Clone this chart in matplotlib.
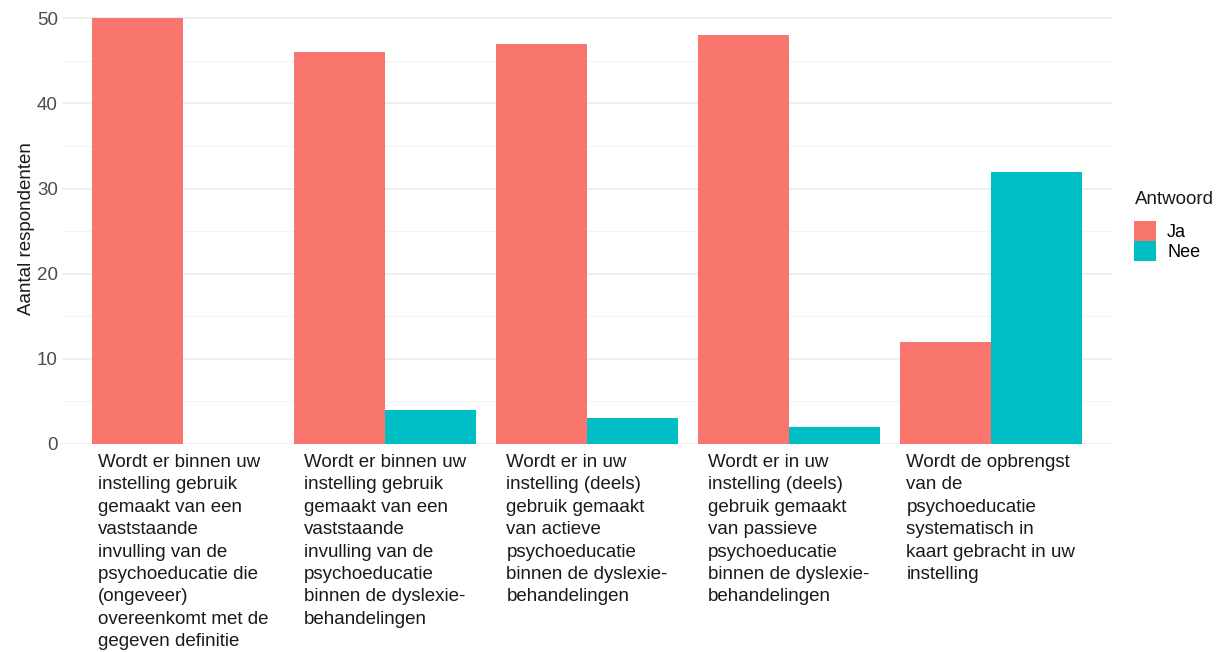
"""Grouped bar chart: gebruik van psychoeducatie binnen instellingen."""

import matplotlib
matplotlib.use("Agg")
import matplotlib.pyplot as plt
import numpy as np
from matplotlib.patches import Patch

plt.rcParams["font.family"] = ["Liberation Sans", "DejaVu Sans"]

categories = [
    "Wordt er binnen uw\ninstelling gebruik\ngemaakt van een\nvaststaande\ninvulling van de\npsychoeducatie die\n(ongeveer)\novereenkomt met de\ngegeven definitie",
    "Wordt er binnen uw\ninstelling gebruik\ngemaakt van een\nvaststaande\ninvulling van de\npsychoeducatie\nbinnen de dyslexie-\nbehandelingen",
    "Wordt er in uw\ninstelling (deels)\ngebruik gemaakt\nvan actieve\npsychoeducatie\nbinnen de dyslexie-\nbehandelingen",
    "Wordt er in uw\ninstelling (deels)\ngebruik gemaakt\nvan passieve\npsychoeducatie\nbinnen de dyslexie-\nbehandelingen",
    "Wordt de opbrengst\nvan de\npsychoeducatie\nsystematisch in\nkaart gebracht in uw\ninstelling",
]
ja_values = [50, 46, 47, 48, 12]
nee_values = [0, 4, 3, 2, 32]
series_names = ["Ja", "Nee"]
colors = {"Ja": "#F8766D", "Nee": "#00BFC4"}

fig = plt.figure(figsize=(12.24, 6.52), dpi=100)
ax = fig.add_axes([62 / 1224, 208 / 652, 1050 / 1224, 430 / 652])

x = np.arange(len(categories))
width = 0.45
ax.bar(x - width / 2, ja_values, width, color=colors["Ja"], zorder=2)
ax.bar(x + width / 2, nee_values, width, color=colors["Nee"], zorder=2)

ax.set_xlim(-0.6, len(categories) - 0.4)
ax.set_ylim(0, 50.5)
ax.set_yticks([0, 10, 20, 30, 40, 50])
ax.set_yticks([5, 15, 25, 35, 45], minor=True)
ax.grid(axis="y", which="major", color="#EBEBEB", linewidth=1.1, zorder=0)
ax.grid(axis="y", which="minor", color="#F4F4F4", linewidth=0.8, zorder=0)
ax.set_axisbelow(True)
for spine in ax.spines.values():
    spine.set_visible(False)
ax.tick_params(axis="both", which="both", length=0)
ax.tick_params(axis="y", labelsize=13.5, labelcolor="#4D4D4D", pad=3)

ax.set_xticks(x)
ax.set_xticklabels(categories, fontsize=13.5, color="#1A1A1A",
                   ha="center", multialignment="left", va="top",
                   linespacing=1.42)
ax.tick_params(axis="x", pad=7)

ax.set_ylabel("Aantal respondenten", fontsize=13.5, color="#1A1A1A", labelpad=1)

# legend drawn as title text plus a title-less legend, to match the spacing
fig.text(1135 / 1224, 1 - 200 / 652, "Antwoord", fontsize=13.5,
         color="#1A1A1A", ha="left", va="center")
handles = [Patch(facecolor=colors[name], edgecolor="none") for name in series_names]
fig.legend(handles, series_names,
           loc="upper left", bbox_to_anchor=(1121 / 1224, 1 - 208 / 652),
           frameon=False, fontsize=13, borderpad=0.2,
           handlelength=1.25, handleheight=1.35, handletextpad=0.6,
           labelspacing=0.0)

fig.savefig("out.png", dpi=100)
